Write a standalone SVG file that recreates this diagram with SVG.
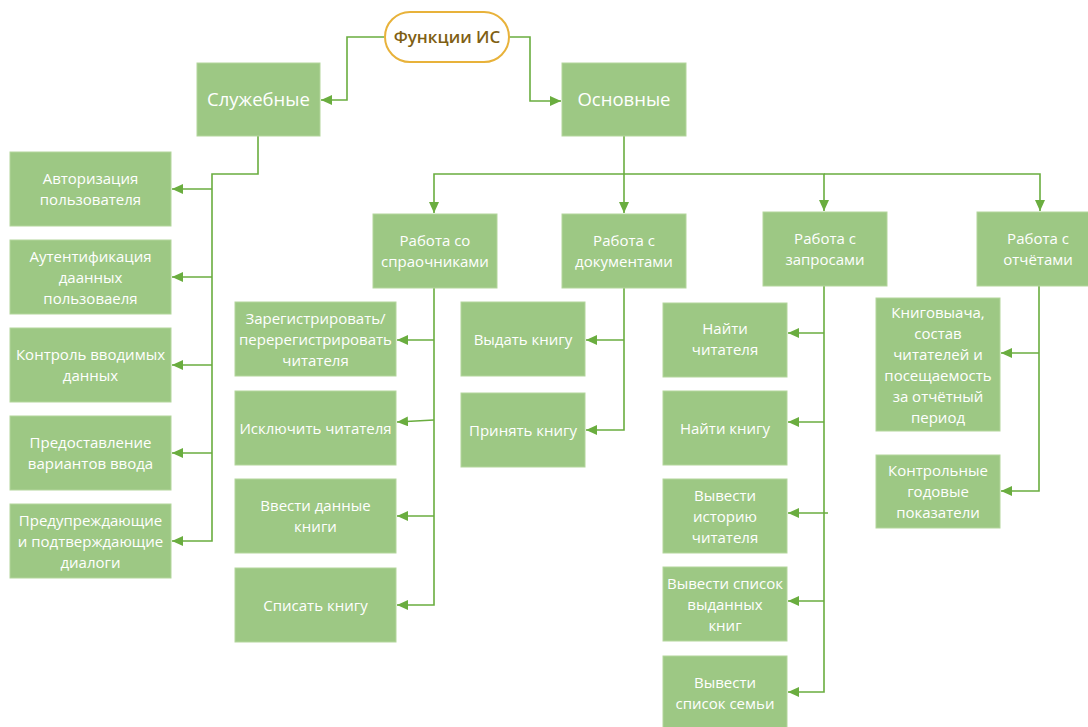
<svg xmlns="http://www.w3.org/2000/svg" width="1088" height="727" viewBox="0 0 1088 727">
<style>
.b{fill:#9dc884;stroke:#b3d69c;stroke-width:1}
.t{fill:#fff;font-family:"Open Sans","Liberation Sans",sans-serif;font-size:15px;text-anchor:middle}
.h{font-size:18.5px}
.c{fill:none;stroke:#6aad3f;stroke-width:1.6;marker-end:url(#a)}
</style>
<defs>
<marker id="a" markerUnits="userSpaceOnUse" markerWidth="12" markerHeight="10" refX="11" refY="5" orient="auto">
<path d="M0,0 L11,5 L0,10 z" fill="#6aad3f"/>
</marker>
</defs>
<rect width="1088" height="727" fill="#fff"/>
<g id="connectors">
<path class="c" d="M384,37 H347 V100 H321"/>
<path class="c" d="M509,37 H530 V101 H561"/>
<path class="c" d="M258,136 V174 H212 V541 H172"/>
<path class="c" d="M212,189 H172"/>
<path class="c" d="M212,277 H172"/>
<path class="c" d="M212,365 H172"/>
<path class="c" d="M212,453 H172"/>
<path class="c" d="M624,136 V213"/>
<path class="c" d="M624,174 H434 V213"/>
<path class="c" d="M624,174 H824 V211"/>
<path class="c" d="M824,174 H1040 V211"/>
<path class="c" d="M434,288 V605 H397"/>
<path class="c" d="M434,340 H397"/>
<path class="c" d="M434,420 L397,422"/>
<path class="c" d="M434,516 H397"/>
<path class="c" d="M624,288 V430 H586"/>
<path class="c" d="M624,340 H586"/>
<path class="c" d="M824,285 V692 H788"/>
<path class="c" d="M824,333 H788"/>
<path class="c" d="M824,422 H788"/>
<path class="c" d="M828,513 H788"/>
<path class="c" d="M824,601 H788"/>
<path class="c" d="M1039,285 V491 H1001"/>
<path class="c" d="M1039,353 H1001"/>
</g>
<g id="root">
<rect x="385" y="12" width="124" height="50" rx="25" fill="#fff" stroke="#e8b23a" stroke-width="2"/>
<text x="447" y="43" style="font-family:'Open Sans','Liberation Sans',sans-serif;font-size:17px;font-weight:600;fill:#7f5f14;text-anchor:middle">Функции ИС</text>
</g>
<g id="sluzhebnye"><rect class="b" x="197" y="63" width="123" height="73"/><text class="t h" x="258.5" y="106">Служебные</text></g>
<g id="osnovnye"><rect class="b" x="562" y="63" width="124" height="73"/><text class="t h" x="624" y="106">Основные</text></g>
<g id="avtorizatsiya"><rect class="b" x="10" y="152" width="161" height="74"/><text class="t" x="90.5" y="184">Авторизация<tspan x="90.5" dy="21">пользователя</tspan></text></g>
<g id="autentifikatsiya"><rect class="b" x="10" y="240" width="161" height="74"/><text class="t" x="90.5" y="262">Аутентификация<tspan x="90.5" dy="21">даанных</tspan><tspan x="90.5" dy="21">пользоваеля</tspan></text></g>
<g id="kontrol"><rect class="b" x="10" y="328" width="161" height="74"/><text class="t" x="90.5" y="360">Контроль вводимых<tspan x="90.5" dy="21">данных</tspan></text></g>
<g id="predostavlenie"><rect class="b" x="10" y="416" width="161" height="74"/><text class="t" x="90.5" y="448">Предоставление<tspan x="90.5" dy="21">вариантов ввода</tspan></text></g>
<g id="preduprezhdayushchie"><rect class="b" x="10" y="504" width="161" height="74"/><text class="t" x="90.5" y="526">Предупреждающие<tspan x="90.5" dy="21">и подтверждающие</tspan><tspan x="90.5" dy="21">диалоги</tspan></text></g>
<g id="spravochniki"><rect class="b" x="373" y="214" width="124" height="74"/><text class="t" x="435" y="246">Работа со<tspan x="435" dy="21">спраочниками</tspan></text></g>
<g id="dokumenty"><rect class="b" x="562" y="214" width="124" height="74"/><text class="t" x="624" y="246">Работа с<tspan x="624" dy="21">документами</tspan></text></g>
<g id="zaprosy"><rect class="b" x="763" y="212" width="124" height="74"/><text class="t" x="825" y="244">Работа с<tspan x="825" dy="21">запросами</tspan></text></g>
<g id="otchety"><rect class="b" x="977" y="212" width="124" height="74"/><text class="t" x="1038" y="244">Работа с<tspan x="1038" dy="21">отчётами</tspan></text></g>
<g id="zaregistrirovat"><rect class="b" x="235" y="302" width="161" height="74"/><text class="t" x="315.5" y="324">Зарегистрировать/<tspan x="315.5" dy="21">перерегистрировать</tspan><tspan x="315.5" dy="21">читателя</tspan></text></g>
<g id="isklyuchit"><rect class="b" x="235" y="391" width="161" height="74"/><text class="t" x="315.5" y="434">Исключить читателя</text></g>
<g id="vvesti-dannye"><rect class="b" x="235" y="479" width="161" height="74"/><text class="t" x="315.5" y="511">Ввести данные<tspan x="315.5" dy="21">книги</tspan></text></g>
<g id="spisat"><rect class="b" x="235" y="568" width="161" height="74"/><text class="t" x="315.5" y="611">Списать книгу</text></g>
<g id="vydat"><rect class="b" x="461" y="302" width="124" height="74"/><text class="t" x="523" y="345">Выдать книгу</text></g>
<g id="prinyat"><rect class="b" x="461" y="393" width="124" height="74"/><text class="t" x="523" y="436">Принять книгу</text></g>
<g id="nayti-chitatelya"><rect class="b" x="663" y="303" width="124" height="74"/><text class="t" x="725" y="334">Найти<tspan x="725" dy="21">читателя</tspan></text></g>
<g id="nayti-knigu"><rect class="b" x="663" y="391" width="124" height="74"/><text class="t" x="725" y="434">Найти книгу</text></g>
<g id="istoriya"><rect class="b" x="663" y="479" width="124" height="74"/><text class="t" x="725" y="501">Вывести<tspan x="725" dy="21">историю</tspan><tspan x="725" dy="21">читателя</tspan></text></g>
<g id="spisok-vydannyh"><rect class="b" x="663" y="567" width="124" height="74"/><text class="t" x="725" y="589">Вывести список<tspan x="725" dy="21">выданных</tspan><tspan x="725" dy="21">книг</tspan></text></g>
<g id="spisok-semi"><rect class="b" x="663" y="656" width="124" height="74"/><text class="t" x="725" y="688">Вывести<tspan x="725" dy="21">список семьи</tspan></text></g>
<g id="knigovydacha"><rect class="b" x="876" y="298" width="124" height="133"/><text class="t" x="938" y="318">Книговыача,<tspan x="938" dy="21">состав</tspan><tspan x="938" dy="21">читателей и</tspan><tspan x="938" dy="21">посещаемость</tspan><tspan x="938" dy="21">за отчётный</tspan><tspan x="938" dy="21">период</tspan></text></g>
<g id="kontrolnye"><rect class="b" x="876" y="455" width="124" height="73"/><text class="t" x="938" y="476">Контрольные<tspan x="938" dy="21">годовые</tspan><tspan x="938" dy="21">показатели</tspan></text></g>
</svg>
